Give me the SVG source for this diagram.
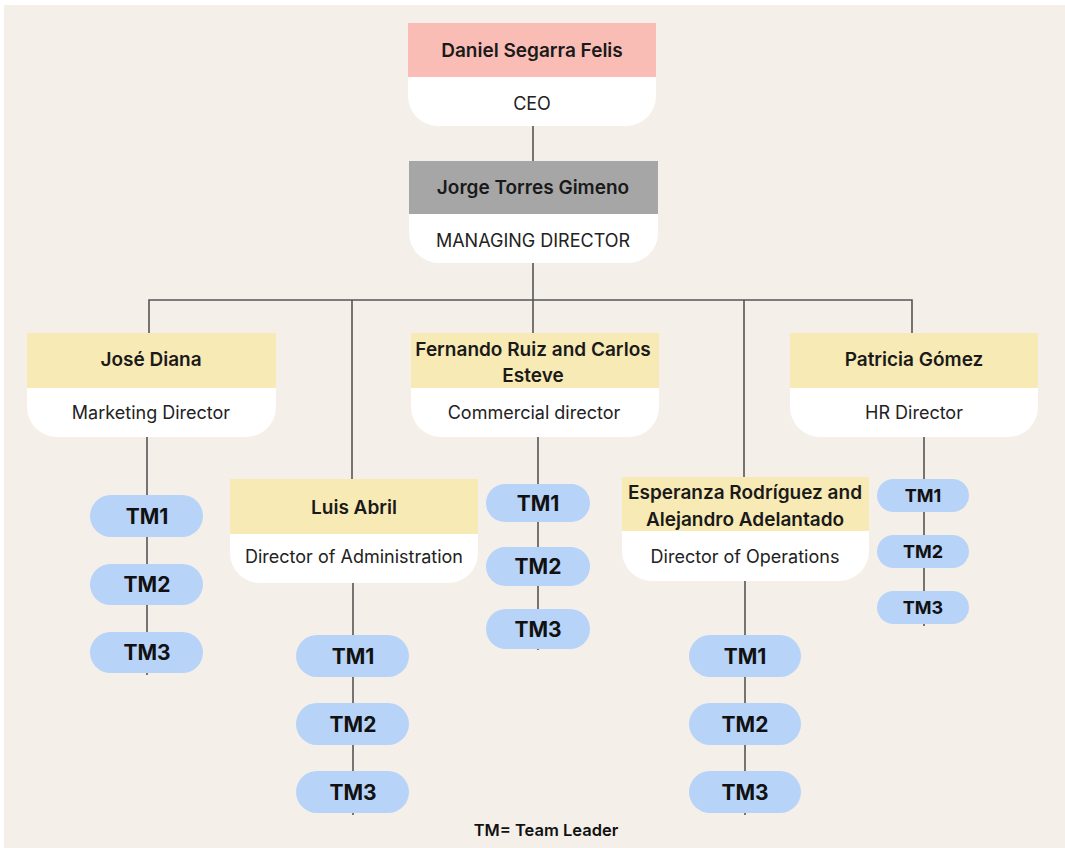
<svg xmlns="http://www.w3.org/2000/svg" width="1065" height="848" viewBox="0 0 1065 848">
<style>
.bg{fill:#F4EFE9}
.card{fill:#FFFFFF}
.hp{fill:#F9BDB6}
.hg{fill:#A6A6A6}
.hy{fill:#F8EAB5}
.pill{fill:#B8D3F8}
.ln{stroke:#555555;stroke-width:1.6;fill:none}
.nm{font-family:Inter,"Noto Sans",sans-serif;font-weight:600;font-size:19px;fill:#1a1a1a;text-anchor:middle}
.rl{font-family:Inter,"Noto Sans",sans-serif;font-weight:400;font-size:18px;fill:#222;text-anchor:middle}
.tm{font-family:Inter,"Noto Sans",sans-serif;font-weight:700;font-size:21px;fill:#111;text-anchor:middle}
.tms{font-family:Inter,"Noto Sans",sans-serif;font-weight:700;font-size:18px;fill:#111;text-anchor:middle}
.ft{font-family:Inter,"Noto Sans",sans-serif;font-weight:600;font-size:16.5px;fill:#111;text-anchor:middle}
</style>
<rect x="0" y="0" width="1065" height="848" fill="#FFFFFF"/>
<rect class="bg" x="4" y="5" width="1061" height="843"/>
<g id="connectors">
<line class="ln" x1="533" y1="126" x2="533" y2="161"/>
<line class="ln" x1="533" y1="263" x2="533" y2="333"/>
<polyline class="ln" points="149,333 149,300 912,300 912,333"/>
<line class="ln" x1="352" y1="300" x2="352" y2="479"/>
<line class="ln" x1="744" y1="300" x2="744" y2="477"/>
<line class="ln" x1="147" y1="437" x2="147" y2="675"/>
<line class="ln" x1="353" y1="583" x2="353" y2="815"/>
<line class="ln" x1="538" y1="437" x2="538" y2="650"/>
<line class="ln" x1="745" y1="581" x2="745" y2="815"/>
<line class="ln" x1="924" y1="437" x2="924" y2="626"/>
</g>
<g id="ceo">
<path class="card" d="M408,23 H656 V96 A30,30 0 0 1 626,126 H438 A30,30 0 0 1 408,96 Z"/>
<rect class="hp" x="408" y="23" width="248" height="54"/>
<text class="nm" x="532" y="57">Daniel Segarra Felis</text>
<text class="rl" x="532" y="109.5">CEO</text>
</g>
<g id="md">
<path class="card" d="M409,161 H658 V233 A30,30 0 0 1 628,263 H439 A30,30 0 0 1 409,233 Z"/>
<rect class="hg" x="409" y="161" width="249" height="53"/>
<text class="nm" x="533" y="194">Jorge Torres Gimeno</text>
<text class="rl" x="533" y="246.5">MANAGING DIRECTOR</text>
</g>
<g id="jose">
<path class="card" d="M27,333 H276 V407 A30,30 0 0 1 246,437 H57 A30,30 0 0 1 27,407 Z"/>
<rect class="hy" x="27" y="333" width="249" height="55"/>
<text class="nm" x="151" y="366">José Diana</text>
<text class="rl" x="151" y="418.5">Marketing Director</text>
</g>
<g id="fernando">
<path class="card" d="M411,333 H659 V407 A30,30 0 0 1 629,437 H441 A30,30 0 0 1 411,407 Z"/>
<rect class="hy" x="411" y="333" width="248" height="55"/>
<text class="nm" x="533" y="356">Fernando Ruiz and Carlos</text>
<text class="nm" x="533" y="382">Esteve</text>
<text class="rl" x="534" y="418.5">Commercial director</text>
</g>
<g id="patricia">
<path class="card" d="M790,333 H1038 V407 A30,30 0 0 1 1008,437 H820 A30,30 0 0 1 790,407 Z"/>
<rect class="hy" x="790" y="333" width="248" height="55"/>
<text class="nm" x="914" y="366">Patricia Gómez</text>
<text class="rl" x="914" y="418.5">HR Director</text>
</g>
<g id="luis">
<path class="card" d="M230,479 H478 V553 A30,30 0 0 1 448,583 H260 A30,30 0 0 1 230,553 Z"/>
<rect class="hy" x="230" y="479" width="248" height="55"/>
<text class="nm" x="354" y="514">Luis Abril</text>
<text class="rl" x="354" y="562.5">Director of Administration</text>
</g>
<g id="esperanza">
<path class="card" d="M622,477 H869 V551 A30,30 0 0 1 839,581 H652 A30,30 0 0 1 622,551 Z"/>
<rect class="hy" x="622" y="477" width="247" height="54"/>
<text class="nm" x="745" y="499">Esperanza Rodríguez and</text>
<text class="nm" x="745" y="526">Alejandro Adelantado</text>
<text class="rl" x="745" y="562.5">Director of Operations</text>
</g>
<g id="jose-tm1"><rect class="pill" x="90" y="495" width="113" height="42" rx="21"/><text class="tm" x="147" y="523.5">TM1</text></g>
<g id="jose-tm2"><rect class="pill" x="90" y="564" width="113" height="41" rx="20.5"/><text class="tm" x="147" y="592">TM2</text></g>
<g id="jose-tm3"><rect class="pill" x="90" y="632" width="113" height="41" rx="20.5"/><text class="tm" x="147" y="660">TM3</text></g>
<g id="luis-tm1"><rect class="pill" x="296" y="635" width="113" height="42" rx="21"/><text class="tm" x="353" y="663.5">TM1</text></g>
<g id="luis-tm2"><rect class="pill" x="296" y="703" width="113" height="42" rx="21"/><text class="tm" x="353" y="731.5">TM2</text></g>
<g id="luis-tm3"><rect class="pill" x="296" y="771" width="113" height="42" rx="21"/><text class="tm" x="353" y="799.5">TM3</text></g>
<g id="fer-tm1"><rect class="pill" x="486" y="484" width="104" height="38" rx="19"/><text class="tm" x="538" y="510.5">TM1</text></g>
<g id="fer-tm2"><rect class="pill" x="486" y="547" width="104" height="39" rx="19.5"/><text class="tm" x="538" y="574">TM2</text></g>
<g id="fer-tm3"><rect class="pill" x="486" y="609" width="104" height="40" rx="20"/><text class="tm" x="538" y="636.5">TM3</text></g>
<g id="esp-tm1"><rect class="pill" x="689" y="635" width="112" height="42" rx="21"/><text class="tm" x="745" y="663.5">TM1</text></g>
<g id="esp-tm2"><rect class="pill" x="689" y="703" width="112" height="42" rx="21"/><text class="tm" x="745" y="731.5">TM2</text></g>
<g id="esp-tm3"><rect class="pill" x="689" y="771" width="112" height="42" rx="21"/><text class="tm" x="745" y="799.5">TM3</text></g>
<g id="pat-tm1"><rect class="pill" x="877" y="479" width="92" height="33" rx="16.5"/><text class="tms" x="923" y="502">TM1</text></g>
<g id="pat-tm2"><rect class="pill" x="877" y="535" width="92" height="33" rx="16.5"/><text class="tms" x="923" y="558">TM2</text></g>
<g id="pat-tm3"><rect class="pill" x="877" y="591" width="92" height="33" rx="16.5"/><text class="tms" x="923" y="614">TM3</text></g>
<text class="ft" x="546" y="836">TM= Team Leader</text>
</svg>
